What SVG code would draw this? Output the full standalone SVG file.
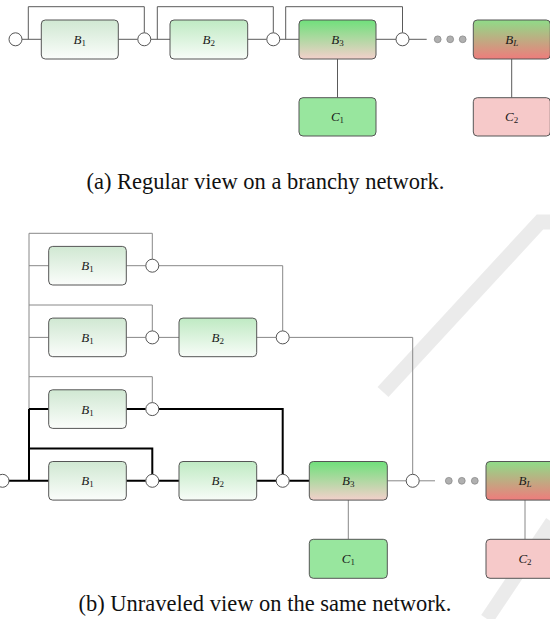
<svg xmlns="http://www.w3.org/2000/svg" width="550" height="619" viewBox="0 0 550 619">
<defs>
<linearGradient id="gB1" x1="0" y1="0" x2="0" y2="1"><stop offset="0" stop-color="#d0e8d2"/><stop offset="1" stop-color="#fbfdfb"/></linearGradient>
<linearGradient id="gB2" x1="0" y1="0" x2="0" y2="1"><stop offset="0" stop-color="#bfeac3"/><stop offset="1" stop-color="#f8fcf8"/></linearGradient>
<linearGradient id="gB3" x1="0" y1="0" x2="0" y2="1"><stop offset="0" stop-color="#6fe07b"/><stop offset="1" stop-color="#f3d0cb"/></linearGradient>
<linearGradient id="gBL" x1="0" y1="0" x2="0" y2="1"><stop offset="0" stop-color="#8fdc88"/><stop offset="1" stop-color="#ee7c7c"/></linearGradient>
<style>
.box{stroke:#555;stroke-width:1}
.ln{fill:none;stroke:#5a5a5a;stroke-width:1}
.lnb{fill:none;stroke:#888;stroke-width:1}
.thick{fill:none;stroke:#000;stroke-width:2;stroke-linejoin:miter}
.circ{fill:#fff;stroke:#555;stroke-width:1}
.dot{fill:#b0b0b0;stroke:#8a8a8a;stroke-width:0.8}
.lbl{font-family:"Liberation Serif",serif;font-style:italic;font-size:13px;text-anchor:middle;fill:#1a1a1a}
.sub{font-size:9px;font-style:normal}
.subi{font-size:9px}
.cap{font-family:"Liberation Serif",serif;font-size:22.5px;text-anchor:middle;fill:#111}
.wms{fill:none;stroke:#000;stroke-opacity:0.08}
</style>
</defs>
<rect width="550" height="619" fill="#fff"/>

<!-- faint background watermark strokes -->
<g id="watermark">
<path class="wms" stroke-width="15" d="M560 222H540L383 392"/>
<path class="wms" stroke-width="14" d="M552 522L487 619"/>
</g>

<!-- (a) connectors -->
<g id="connectors-a">
<path class="ln" d="M22 39.3H41.3M118.3 39.3H137.8M150.8 39.3H170M247.7 39.3H266.8M279.8 39.3H299M376 39.3H396M409 39.3H426.7"/>
<path class="ln" d="M28.3 39.3V6.7H144.3V32.8"/>
<path class="ln" d="M157.3 39.3V6.7H273.3V32.8"/>
<path class="ln" d="M285.7 39.3V6.7H402.5V32.8"/>
<path class="ln" d="M337.5 59V97.7M511.7 59V97.7"/>
</g>
<!-- (a) nodes -->
<g id="a-in"><circle class="circ" cx="15.5" cy="39.3" r="6.5"/></g>
<g id="a-B1"><rect class="box" x="41.3" y="20" width="77" height="39" rx="4" fill="url(#gB1)"/><text class="lbl" x="79.8" y="43.8">B<tspan class="sub" dy="2">1</tspan></text></g>
<g id="a-j1"><circle class="circ" cx="144.3" cy="39.3" r="6.5"/></g>
<g id="a-B2"><rect class="box" x="170" y="20" width="77.7" height="39" rx="4" fill="url(#gB2)"/><text class="lbl" x="208.8" y="43.8">B<tspan class="sub" dy="2">2</tspan></text></g>
<g id="a-j2"><circle class="circ" cx="273.3" cy="39.3" r="6.5"/></g>
<g id="a-B3"><rect class="box" x="299" y="20" width="77" height="39" rx="4" fill="url(#gB3)"/><text class="lbl" x="337.5" y="43.8">B<tspan class="sub" dy="2">3</tspan></text></g>
<g id="a-j3"><circle class="circ" cx="402.5" cy="39.3" r="6.5"/></g>
<g id="a-dots"><circle class="dot" cx="437.7" cy="39.3" r="3.4"/><circle class="dot" cx="450.2" cy="39.3" r="3.4"/><circle class="dot" cx="462.7" cy="39.3" r="3.4"/></g>
<g id="a-BL"><rect class="box" x="473.3" y="20" width="77" height="39" rx="4" fill="url(#gBL)"/><text class="lbl" x="511.7" y="43.8">B<tspan class="subi" dy="2">L</tspan></text></g>
<g id="a-C1"><rect class="box" x="299" y="97.7" width="77" height="38.3" rx="4" fill="#98e69e"/><text class="lbl" x="337.5" y="121">C<tspan class="sub" dy="2">1</tspan></text></g>
<g id="a-C2"><rect class="box" x="473.3" y="97.7" width="77" height="38.3" rx="4" fill="#f6c9c9"/><text class="lbl" x="511.7" y="121">C<tspan class="sub" dy="2">2</tspan></text></g>

<text class="cap" x="265.5" y="189.3">(a) Regular view on a branchy network.</text>

<!-- (b) connectors -->
<g id="connectors-b">
<path class="lnb" d="M29 409.1V233.3H152.3V259.2"/>
<path class="lnb" d="M29 265.7H48.7M126.3 265.7H145.8M158.8 265.7H282.7V330.9"/>
<path class="lnb" d="M29 305H152.3V330.9"/>
<path class="lnb" d="M29 337.4H48.7M126.3 337.4H145.8M158.8 337.4H179M256.7 337.4H276.2M289.2 337.4H412.7V474.3"/>
<path class="lnb" d="M29 376.7H152.3V402.6"/>
<path class="lnb" d="M387.3 480.8H406.2M419.2 480.8H435"/>
<path class="lnb" d="M348.3 500V539.3M525 500V539.3"/>
<path class="thick" d="M29 409.1V480.8"/>
<path class="thick" d="M29 409.1H48.7M126.3 409.1H145.8M158.8 409.1H282.7V474.3"/>
<path class="thick" d="M29 448.4H152.3V474.3"/>
<path class="thick" d="M9 480.8H48.7M126.3 480.8H145.8M158.8 480.8H179M256.7 480.8H276.2M289.2 480.8H309.3"/>
</g>
<!-- (b) nodes -->
<g id="b-in"><circle class="circ" cx="2.5" cy="480.8" r="6.5"/></g>
<g id="b-r1-B1"><rect class="box" x="48.7" y="246.4" width="77.6" height="38.6" rx="4" fill="url(#gB1)"/><text class="lbl" x="87.5" y="270.2">B<tspan class="sub" dy="2">1</tspan></text></g>
<g id="b-r1-j"><circle class="circ" cx="152.3" cy="265.7" r="6.5"/></g>
<g id="b-r2-B1"><rect class="box" x="48.7" y="318.1" width="77.6" height="38.6" rx="4" fill="url(#gB1)"/><text class="lbl" x="87.5" y="341.9">B<tspan class="sub" dy="2">1</tspan></text></g>
<g id="b-r2-j1"><circle class="circ" cx="152.3" cy="337.4" r="6.5"/></g>
<g id="b-r2-B2"><rect class="box" x="179" y="318.1" width="77.7" height="38.6" rx="4" fill="url(#gB2)"/><text class="lbl" x="217.8" y="341.9">B<tspan class="sub" dy="2">2</tspan></text></g>
<g id="b-r2-j2"><circle class="circ" cx="282.7" cy="337.4" r="6.5"/></g>
<g id="b-r3-B1"><rect class="box" x="48.7" y="389.8" width="77.6" height="38.6" rx="4" fill="url(#gB1)"/><text class="lbl" x="87.5" y="413.6">B<tspan class="sub" dy="2">1</tspan></text></g>
<g id="b-r3-j"><circle class="circ" cx="152.3" cy="409.1" r="6.5"/></g>
<g id="b-r4-B1"><rect class="box" x="48.7" y="461.5" width="77.6" height="38.6" rx="4" fill="url(#gB1)"/><text class="lbl" x="87.5" y="485.3">B<tspan class="sub" dy="2">1</tspan></text></g>
<g id="b-r4-j1"><circle class="circ" cx="152.3" cy="480.8" r="6.5"/></g>
<g id="b-r4-B2"><rect class="box" x="179" y="461.5" width="77.7" height="38.6" rx="4" fill="url(#gB2)"/><text class="lbl" x="217.8" y="485.3">B<tspan class="sub" dy="2">2</tspan></text></g>
<g id="b-r4-j2"><circle class="circ" cx="282.7" cy="480.8" r="6.5"/></g>
<g id="b-B3"><rect class="box" x="309.3" y="461.5" width="78" height="38.6" rx="4" fill="url(#gB3)"/><text class="lbl" x="348.3" y="485.3">B<tspan class="sub" dy="2">3</tspan></text></g>
<g id="b-j3"><circle class="circ" cx="412.7" cy="480.8" r="6.5"/></g>
<g id="b-dots"><circle class="dot" cx="448.8" cy="480.8" r="3.4"/><circle class="dot" cx="461.8" cy="480.8" r="3.4"/><circle class="dot" cx="474.8" cy="480.8" r="3.4"/></g>
<g id="b-BL"><rect class="box" x="486" y="461.5" width="78" height="38.6" rx="4" fill="url(#gBL)"/><text class="lbl" x="525" y="485.3">B<tspan class="subi" dy="2">L</tspan></text></g>
<g id="b-C1"><rect class="box" x="309.3" y="539.3" width="78" height="39" rx="4" fill="#98e69e"/><text class="lbl" x="348.3" y="563.3">C<tspan class="sub" dy="2">1</tspan></text></g>
<g id="b-C2"><rect class="box" x="486" y="539.3" width="78" height="39" rx="4" fill="#f6c9c9"/><text class="lbl" x="525" y="563.3">C<tspan class="sub" dy="2">2</tspan></text></g>

<text class="cap" x="265" y="610.7">(b) Unraveled view on the same network.</text>
</svg>
